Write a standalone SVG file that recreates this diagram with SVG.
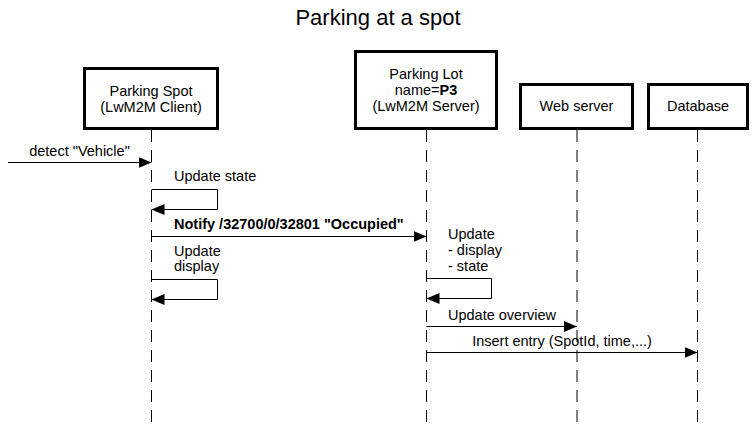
<svg xmlns="http://www.w3.org/2000/svg" width="755" height="430" viewBox="0 0 755 430">
<style>
text{font-family:"Liberation Sans",Arial,sans-serif;font-size:14.5px;fill:#000}
.title{font-size:22px}
.box{fill:#fff;stroke:#000;stroke-width:3}
.life{stroke:#000;stroke-width:1;stroke-dasharray:12 8;fill:none}
.msg{stroke:#000;stroke-width:1;fill:none}
.c{text-anchor:middle}
.b{font-weight:bold}
</style>
<defs>
<marker id="ah" viewBox="0 0 13 11" refX="13" refY="5.5" markerWidth="13" markerHeight="11" markerUnits="userSpaceOnUse" orient="auto">
<path d="M0,0 L13,5.5 L0,11 Z" fill="#000"/>
</marker>
</defs>
<rect width="755" height="430" fill="#fff"/>
<text class="title c" x="378" y="25">Parking at a spot</text>
<g id="lifelines">
<line class="life" x1="151.5" y1="130" x2="151.5" y2="430"/>
<line class="life" x1="426.5" y1="130" x2="426.5" y2="430"/>
<line class="life" x1="577" y1="130" x2="577" y2="430"/>
<line class="life" x1="697.5" y1="130" x2="697.5" y2="430"/>
</g>
<g id="spot">
<rect class="box" x="84.5" y="68.5" width="133" height="60"/>
<text class="c" x="151" y="96">Parking Spot</text>
<text class="c" x="151" y="112">(LwM2M Client)</text>
</g>
<g id="lot">
<rect class="box" x="355.5" y="51.5" width="141" height="77"/>
<text class="c" x="426" y="79">Parking Lot</text>
<text class="c" x="426" y="95">name=<tspan class="b">P3</tspan></text>
<text class="c" x="426" y="111">(LwM2M Server)</text>
</g>
<g id="web">
<rect class="box" x="520.5" y="84.5" width="112" height="44"/>
<text class="c" x="576.5" y="111">Web server</text>
</g>
<g id="db">
<rect class="box" x="648.5" y="84.5" width="99" height="44"/>
<text class="c" x="698" y="111">Database</text>
</g>
<g id="connectors">
<line class="msg" x1="8" y1="162.5" x2="151.5" y2="162.5" marker-end="url(#ah)"/>
<text class="c" x="79.5" y="156">detect "Vehicle"</text>
<path class="msg" d="M151.5,189.5 H217.5 V209.5 H151.5" marker-end="url(#ah)"/>
<text x="174" y="181">Update state</text>
<line class="msg" x1="151.5" y1="236.5" x2="426.5" y2="236.5" marker-end="url(#ah)"/>
<text class="b" x="174" y="229">Notify /32700/0/32801 "Occupied"</text>
<path class="msg" d="M151.5,279.5 H217.5 V299.5 H151.5" marker-end="url(#ah)"/>
<text x="174" y="256">Update</text>
<text x="174" y="271">display</text>
<path class="msg" d="M426.5,278.5 H491.5 V298.5 H426.5" marker-end="url(#ah)"/>
<text x="448" y="239">Update</text>
<text x="448" y="255">- display</text>
<text x="448" y="271">- state</text>
<line class="msg" x1="426.5" y1="326.5" x2="577" y2="326.5" marker-end="url(#ah)"/>
<text x="448" y="320">Update overview</text>
<line class="msg" x1="426.5" y1="352.5" x2="697.5" y2="352.5" marker-end="url(#ah)"/>
<text class="c" x="562" y="346">Insert entry (SpotId, time,...)</text>
</g>
</svg>
